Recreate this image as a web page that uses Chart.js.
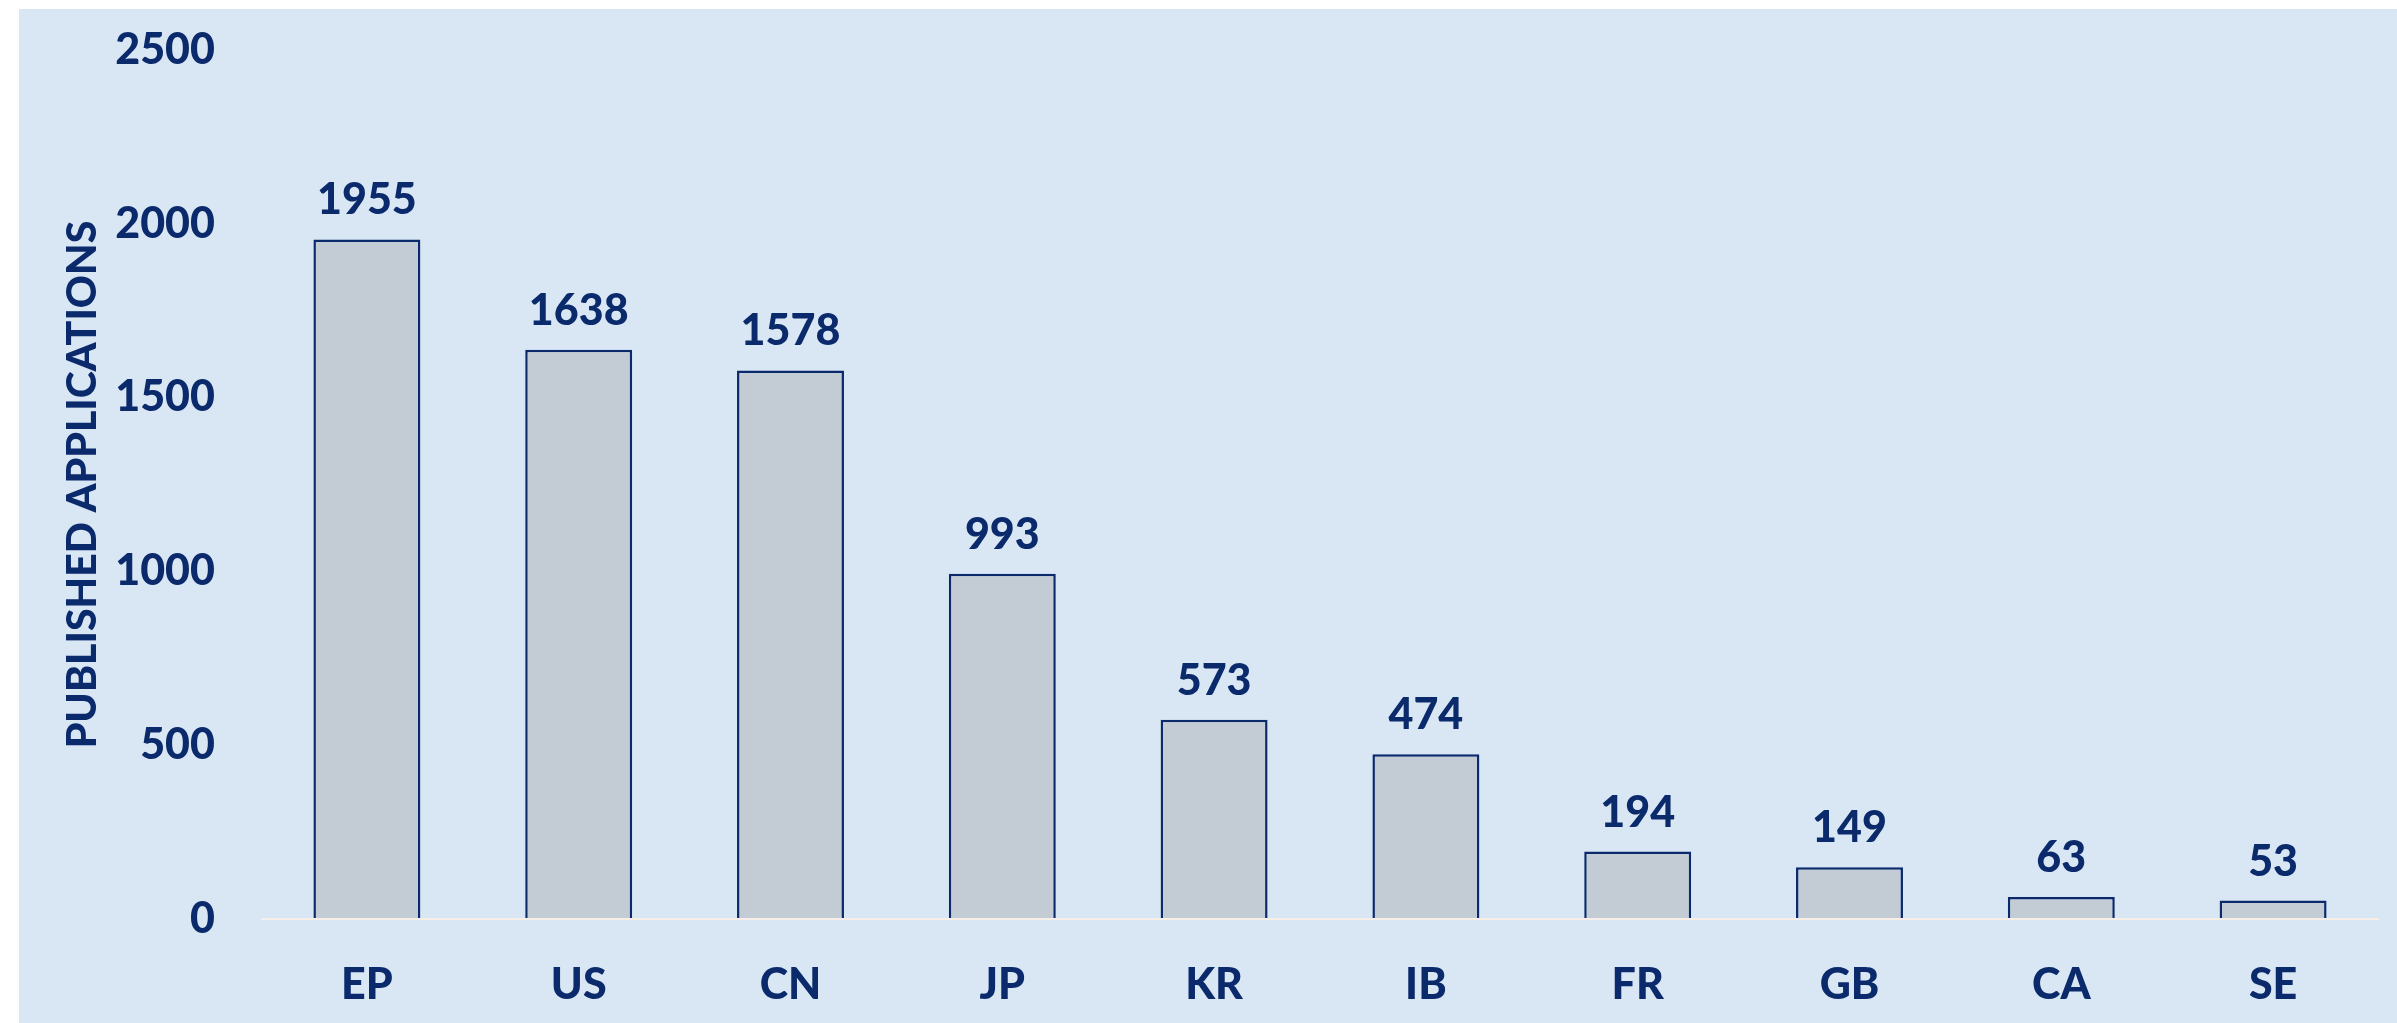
<!DOCTYPE html>
<html>
<head>
<meta charset="utf-8">
<script src="https://cdn.jsdelivr.net/npm/chart.js@4.4.1/dist/chart.umd.min.js"></script>
<style>
  html, body { margin: 0; padding: 0; background: #ffffff; }
  #wrap {
    position: absolute; left: 19px; top: 9px; width: 2378px; height: 1014px;
    background: #d9e7f5;
  }
  #wrap canvas { display: block; }
</style>
</head>
<body>
<div id="wrap"><canvas id="patentChart" width="2378" height="1014"></canvas></div>
<script>
const offices = ['EP', 'US', 'CN', 'JP', 'KR', 'IB', 'FR', 'GB', 'CA', 'SE'];
const publishedApplications = [1955, 1638, 1578, 993, 573, 474, 194, 149, 63, 53];
const yTicks = [0, 500, 1000, 1500, 2000, 2500];

const navy = '#0b2a6b';
const labelFont = { family: 'Lato', weight: 900, size: 43, lineHeight: 1.2 };

// value labels above each bar
const barValues = {
    id: 'barValues',
    afterDatasetsDraw(chart) {
        const ctx = chart.ctx;
        const meta = chart.getDatasetMeta(0);
        ctx.save();
        ctx.font = '900 43px Lato';
        ctx.fillStyle = navy;
        ctx.textAlign = 'center';
        ctx.textBaseline = 'alphabetic';
        meta.data.forEach((bar, i) => {
            ctx.fillText(String(publishedApplications[i]), bar.x, bar.y - 25);
        });
        ctx.restore();
    }
};

const ctx = document.getElementById('patentChart').getContext('2d');
new Chart(ctx, {
    type: 'bar',
    data: {
        labels: offices,
        datasets: [{
            label: 'Published applications',
            data: publishedApplications,
            backgroundColor: '#c3ccd5',
            borderColor: navy,
            borderWidth: 2.5,
            categoryPercentage: 1,
            barPercentage: 0.505
        }]
    },
    options: {
        responsive: false,
        animation: false,
        layout: { padding: { top: 41, right: 18, left: 0, bottom: 0 } },
        plugins: {
            legend: { display: false },
            tooltip: { enabled: false }
        },
        scales: {
            x: {
                grid: { display: false, drawTicks: false },
                border: { display: false },
                ticks: { color: navy, font: labelFont, padding: 40 },
                afterFit: (scale) => { scale.height = 104; }
            },
            y: {
                min: 0,
                max: 2500,
                afterBuildTicks: (scale) => { scale.ticks = yTicks.map(v => ({ value: v })); },
                grid: {
                    drawTicks: false,
                    lineWidth: 2,
                    color: (c) => c.tick && c.tick.value === 0 ? 'rgba(250,240,230,0.9)' : 'rgba(0,0,0,0)'
                },
                border: { display: false },
                ticks: { color: navy, font: labelFont, padding: 46, callback: (v) => String(v) },
                title: {
                    display: true,
                    text: 'PUBLISHED APPLICATIONS',
                    color: navy,
                    font: { family: 'Lato', weight: 900, size: 41, lineHeight: 1.2 },
                    padding: { top: 39, bottom: 0 }
                },
                afterFit: (scale) => {
                    scale.width = 242;
                    scale.paddingTop = 0;
                    scale.paddingBottom = 0;
                }
            }
        }
    },
    plugins: [barValues]
});
</script>
</body>
</html>
